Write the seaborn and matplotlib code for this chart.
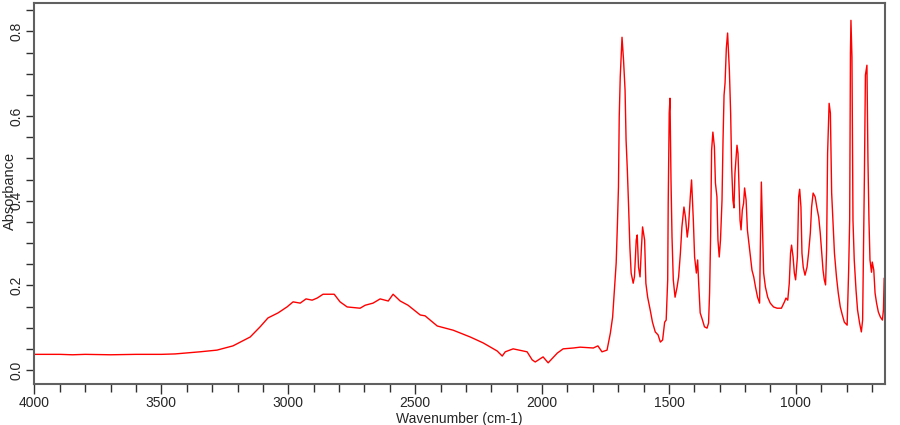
import matplotlib
matplotlib.use("Agg")
import matplotlib.pyplot as plt
import seaborn as sns
import pandas as pd
from matplotlib.ticker import MultipleLocator

# IR spectrum (wavenumber in cm-1, absorbance)
wavenumber = [
    4000, 3900, 3850, 3800, 3700, 3600, 3500, 3446, 3348, 3281, 3218, 3150,
    3111, 3080, 3040, 3005, 2981, 2953, 2930, 2906, 2886, 2863, 2819, 2796,
    2768, 2717, 2697, 2666, 2638, 2606, 2587, 2559, 2528, 2480, 2461, 2413,
    2350, 2283, 2232, 2177, 2157, 2145, 2114, 2059, 2039, 2027, 1996, 1976,
    1940, 1917, 1877, 1850, 1798, 1780, 1764, 1744, 1731, 1722, 1714, 1708,
    1703, 1699, 1696, 1692, 1685, 1679, 1673, 1669, 1664, 1659, 1654, 1649,
    1641, 1636, 1629, 1625, 1620, 1614, 1609, 1604, 1596, 1591, 1584, 1574,
    1565, 1554, 1543, 1534, 1525, 1517, 1511, 1505, 1503, 1499, 1496, 1492,
    1488, 1483, 1476, 1468, 1462, 1455, 1449, 1441, 1435, 1428, 1423, 1416,
    1411, 1404, 1399, 1392, 1387, 1383, 1377, 1368, 1360, 1350, 1344, 1340,
    1336, 1332, 1327, 1321, 1317, 1311, 1307, 1302, 1297, 1291, 1287, 1283,
    1279, 1274, 1269, 1262, 1257, 1253, 1248, 1244, 1240, 1235, 1232, 1228,
    1224, 1220, 1216, 1211, 1206, 1202, 1196, 1191, 1185, 1179, 1173, 1166,
    1159, 1151, 1143, 1140, 1136, 1131, 1127, 1120, 1111, 1101, 1088, 1074,
    1057, 1045, 1039, 1032, 1026, 1021, 1017, 1011, 1006, 1001, 994, 989,
    985, 980, 976, 971, 964, 956, 950, 943, 938, 932, 924, 917,
    910, 904, 898, 893, 888, 883, 879, 875, 869, 864, 859, 854,
    848, 840, 833, 825, 817, 809, 798, 792, 788, 785, 783, 779,
    775, 770, 763, 757, 749, 742, 737, 733, 730, 726, 720, 716,
    712, 708, 702, 699, 693, 688, 682, 675, 667, 659, 655, 652,
]
absorbance = [
    0.037, 0.037, 0.036, 0.037, 0.036, 0.037, 0.037, 0.038, 0.043, 0.047, 0.057, 0.078,
    0.102, 0.123, 0.135, 0.149, 0.161, 0.158, 0.168, 0.165, 0.170, 0.179, 0.179, 0.161,
    0.149, 0.146, 0.153, 0.158, 0.168, 0.163, 0.179, 0.163, 0.153, 0.130, 0.128, 0.104,
    0.094, 0.078, 0.064, 0.045, 0.033, 0.043, 0.050, 0.043, 0.024, 0.019, 0.031, 0.017,
    0.040, 0.050, 0.052, 0.054, 0.052, 0.057, 0.043, 0.047, 0.087, 0.125, 0.196, 0.253,
    0.347, 0.432, 0.597, 0.692, 0.786, 0.732, 0.661, 0.543, 0.472, 0.385, 0.290, 0.229,
    0.205, 0.220, 0.307, 0.319, 0.243, 0.220, 0.283, 0.338, 0.307, 0.205, 0.172, 0.142,
    0.113, 0.090, 0.083, 0.066, 0.071, 0.113, 0.118, 0.213, 0.394, 0.607, 0.642, 0.449,
    0.314, 0.213, 0.172, 0.196, 0.220, 0.276, 0.338, 0.385, 0.361, 0.314, 0.338, 0.409,
    0.449, 0.354, 0.267, 0.229, 0.260, 0.205, 0.135, 0.118, 0.102, 0.099, 0.111, 0.182,
    0.314, 0.519, 0.562, 0.527, 0.442, 0.409, 0.307, 0.267, 0.307, 0.401, 0.543, 0.649,
    0.678, 0.760, 0.796, 0.708, 0.607, 0.479, 0.401, 0.383, 0.465, 0.508, 0.531, 0.512,
    0.432, 0.354, 0.331, 0.378, 0.394, 0.430, 0.401, 0.331, 0.300, 0.267, 0.236, 0.220,
    0.196, 0.172, 0.158, 0.290, 0.444, 0.324, 0.229, 0.196, 0.172, 0.158, 0.149, 0.146,
    0.146, 0.161, 0.170, 0.165, 0.205, 0.276, 0.295, 0.267, 0.229, 0.213, 0.267, 0.409,
    0.427, 0.385, 0.276, 0.243, 0.224, 0.243, 0.276, 0.324, 0.385, 0.418, 0.409, 0.383,
    0.361, 0.324, 0.276, 0.236, 0.213, 0.201, 0.283, 0.512, 0.630, 0.607, 0.418, 0.354,
    0.276, 0.220, 0.182, 0.149, 0.130, 0.113, 0.106, 0.236, 0.354, 0.749, 0.826, 0.739,
    0.354, 0.260, 0.189, 0.142, 0.111, 0.090, 0.118, 0.314, 0.456, 0.697, 0.720, 0.496,
    0.354, 0.260, 0.231, 0.255, 0.236, 0.182, 0.158, 0.137, 0.125, 0.118, 0.142, 0.217,
]

df = pd.DataFrame({"wavenumber": wavenumber, "absorbance": absorbance})

sns.set_style("ticks")
plt.rcParams["font.family"] = ["Liberation Sans", "DejaVu Sans"]

fig = plt.figure(figsize=(9, 4.25), dpi=100)
ax = fig.add_axes([0.0383, 0.0965, 0.9447, 0.8965])

sns.lineplot(data=df, x="wavenumber", y="absorbance", ax=ax, color="#ff0000",
             linewidth=1.0, estimator=None, sort=False)

ax.set_xlim(4000, 650)
ax.set_ylim(-0.033, 0.867)
ax.xaxis.set_major_locator(MultipleLocator(500))
ax.xaxis.set_minor_locator(MultipleLocator(100))
ax.yaxis.set_major_locator(MultipleLocator(0.2))
ax.yaxis.set_minor_locator(MultipleLocator(0.05))
ax.yaxis.set_major_formatter(plt.FormatStrFormatter("%.1f"))

for side in ["top", "right", "bottom", "left"]:
    ax.spines[side].set_visible(True)
    ax.spines[side].set_color("#606060")
    ax.spines[side].set_linewidth(1.5)

ax.tick_params(axis="both", which="both", direction="out", color="#303030", width=1)
ax.tick_params(axis="x", which="major", length=7, labelsize=10, pad=2)
ax.tick_params(axis="x", which="minor", length=6)
ax.tick_params(axis="y", which="both", length=6, labelsize=10, pad=2)
for lbl in ax.get_yticklabels():
    lbl.set_rotation(90)
    lbl.set_va("center")

ax.set_xlabel("Wavenumber (cm-1)", fontsize=10, labelpad=1)
# the reference draws the y label over the 0.4 tick label, so keep it close
ax.set_ylabel("Absorbance", fontsize=10.5)
ax.yaxis.set_label_coords(-0.021, 0.507)

fig.savefig("out.png", dpi=100)
